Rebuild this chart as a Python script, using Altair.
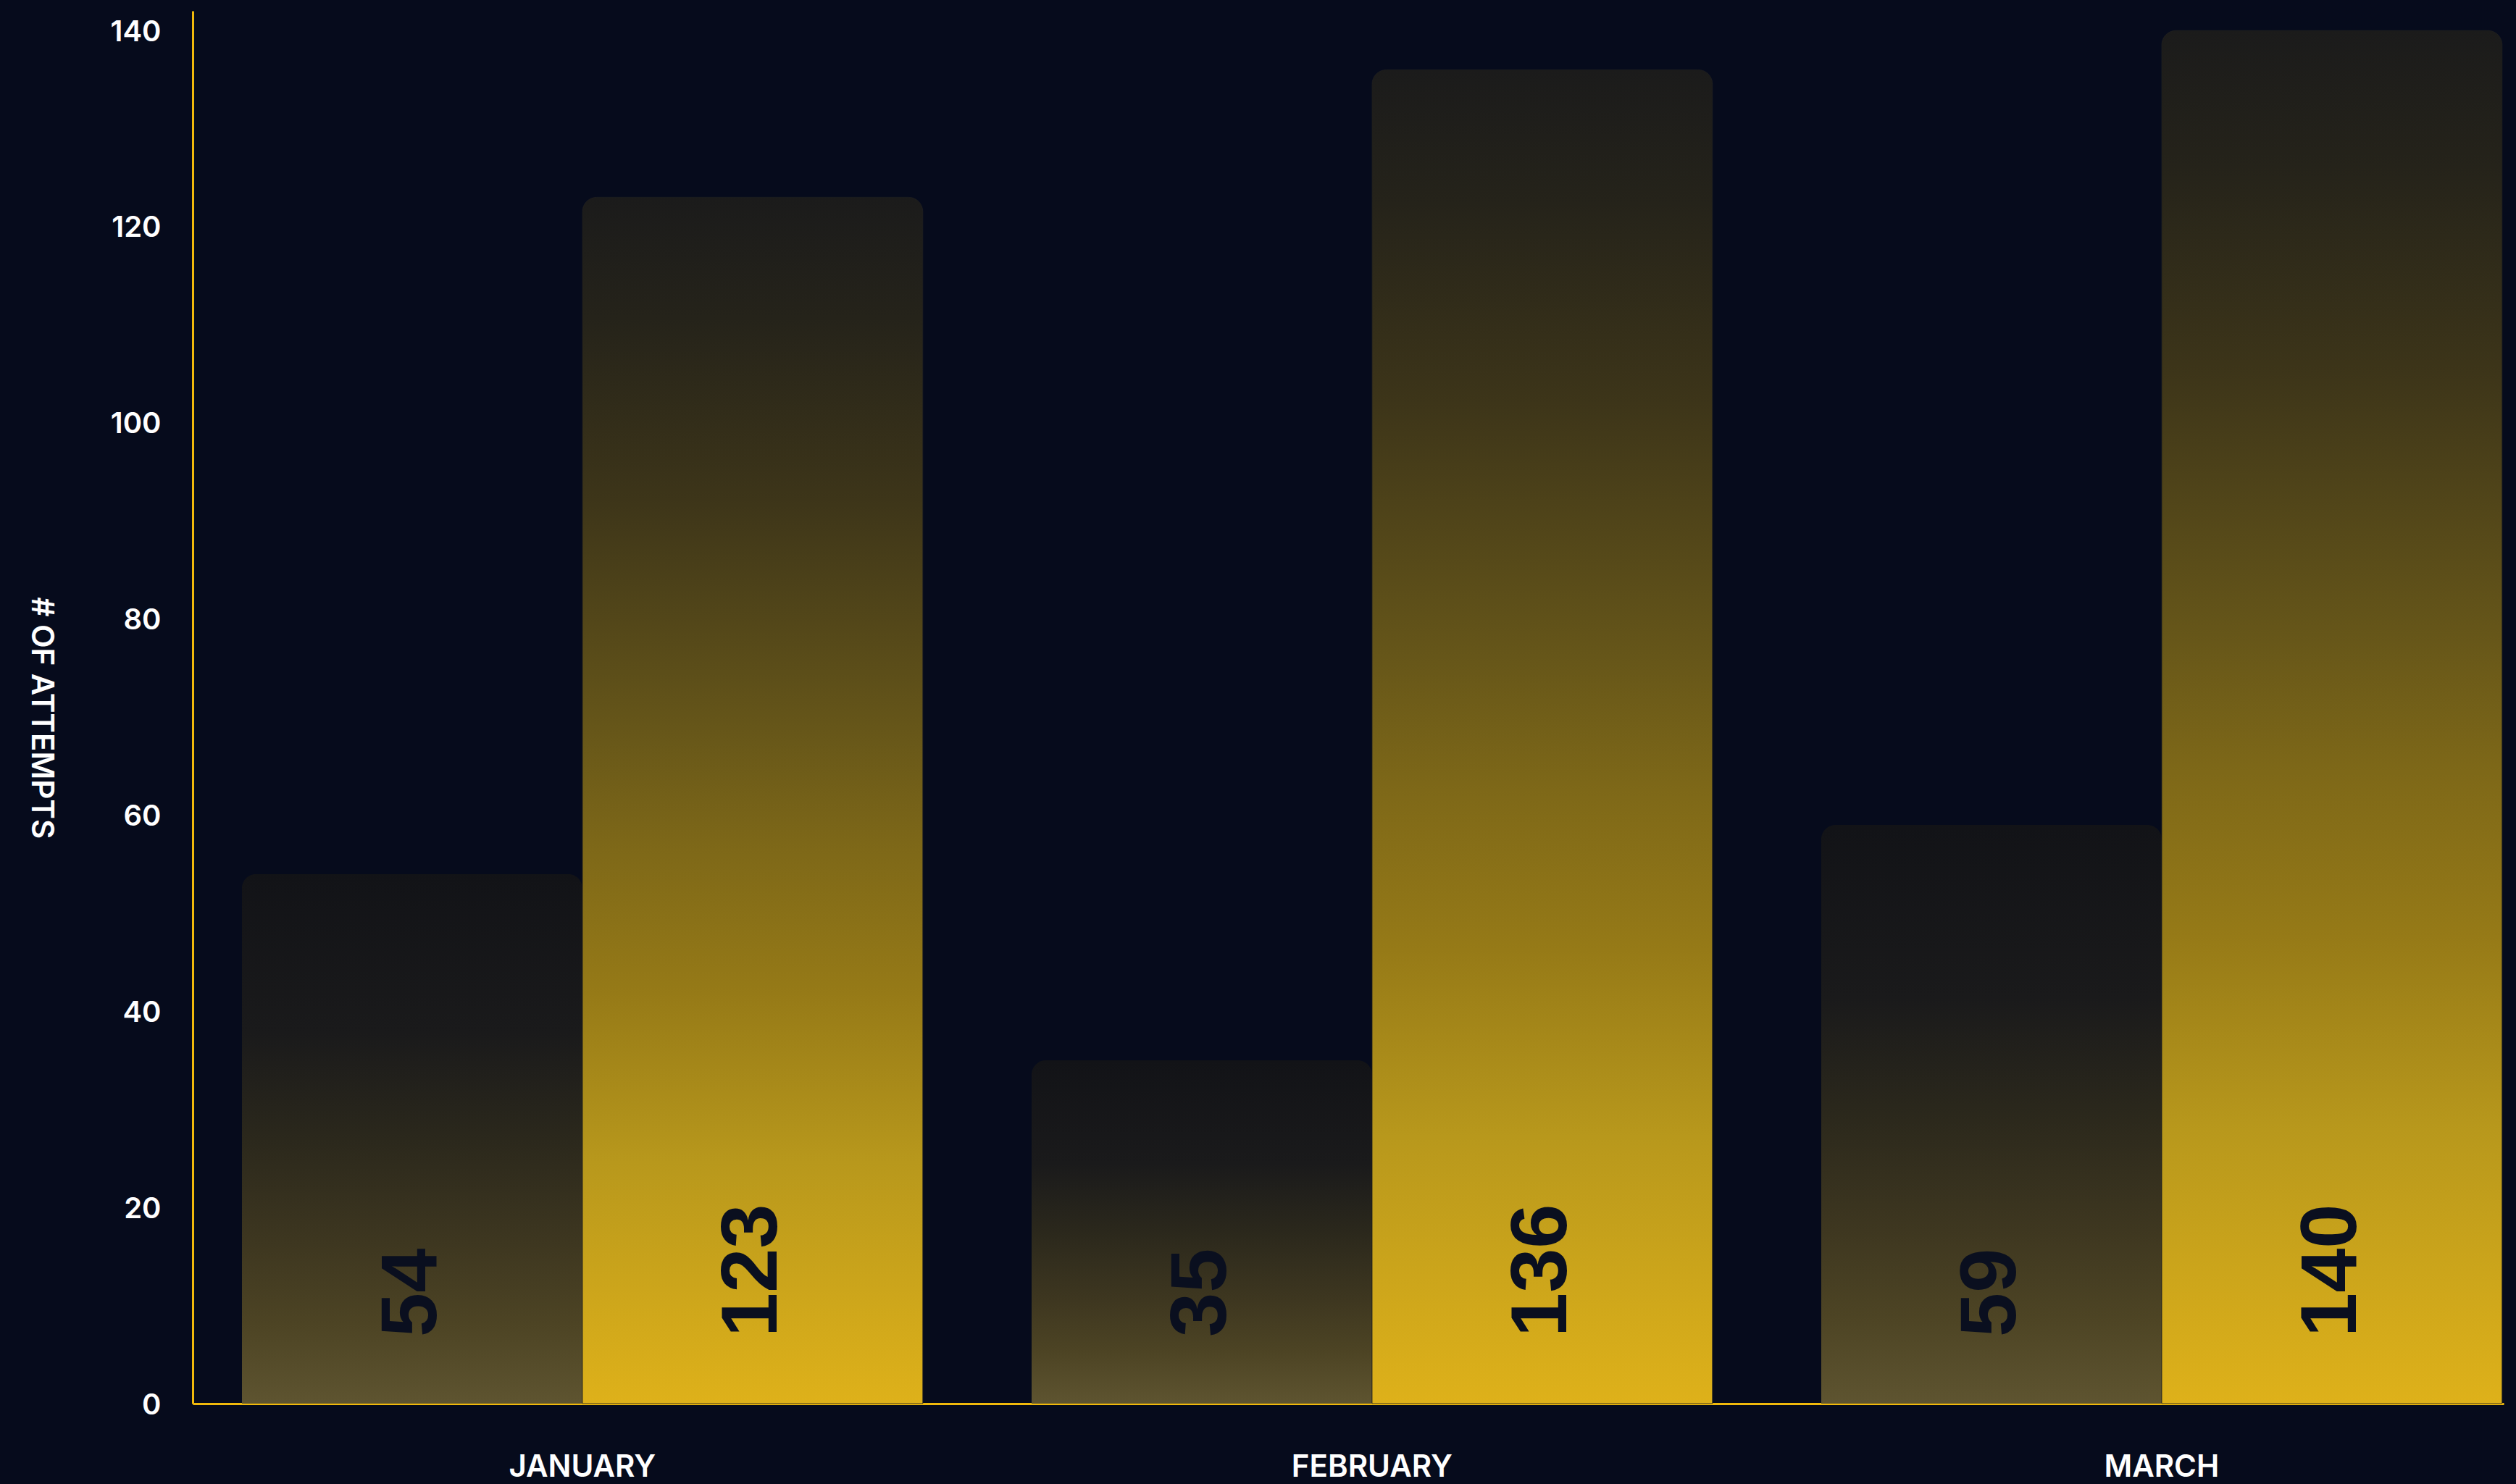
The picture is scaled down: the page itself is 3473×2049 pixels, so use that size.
import altair as alt
import pandas as pd

# ---- data ----
months = ["JANUARY", "FEBRUARY", "MARCH"]
series_names = ["Series 1", "Series 2"]
values_1 = [54, 35, 59]        # darker bars
values_2 = [123, 136, 140]     # yellow bars
y_ticks = [0, 20, 40, 60, 80, 100, 120, 140]

rows = []
for m, a, b in zip(months, values_1, values_2):
    rows.append({"month": m, "series": series_names[0], "value": a})
    rows.append({"month": m, "series": series_names[1], "value": b})
df = pd.DataFrame(rows)

BG = "#060b1c"
AXIS_YELLOW = "#f0b90b"

yellow_grad = alt.LinearGradient(
    gradient="linear", x1=0, x2=0, y1=0, y2=1,
    stops=[
        alt.GradientStop(color="#1b1b1b", offset=0.0),
        alt.GradientStop(color="#25231a", offset=0.10),
        alt.GradientStop(color="#3d3519", offset=0.25),
        alt.GradientStop(color="#665619", offset=0.44),
        alt.GradientStop(color="#7e6818", offset=0.54),
        alt.GradientStop(color="#967a17", offset=0.66),
        alt.GradientStop(color="#b8981c", offset=0.80),
        alt.GradientStop(color="#deb11a", offset=1.0),
    ],
)
dark_grad = alt.LinearGradient(
    gradient="linear", x1=0, x2=0, y1=0, y2=1,
    stops=[
        alt.GradientStop(color="#121317", offset=0.0),
        alt.GradientStop(color="#1a1a1b", offset=0.30),
        alt.GradientStop(color="#2b281c", offset=0.50),
        alt.GradientStop(color="#3e3720", offset=0.70),
        alt.GradientStop(color="#4d4424", offset=0.85),
        alt.GradientStop(color="#5e5430", offset=1.0),
    ],
)

x_enc = alt.X(
    "month:N",
    sort=months,
    scale=alt.Scale(paddingInner=0.1376, paddingOuter=0.0321, align=0.97),
    axis=alt.Axis(
        title=None, labelAngle=0, ticks=False,
        domainColor=AXIS_YELLOW, domainWidth=3,
        labelColor="#ffffff", labelFont="Inter", labelFontSize=42,
        labelFontWeight=600, labelPadding=100, labelBaseline="alphabetic",
        labelLimit=0,
    ),
)
xoff_enc = alt.XOffset(
    "series:N",
    scale=alt.Scale(domain=series_names, paddingInner=0, paddingOuter=0),
)
y_enc = alt.Y(
    "value:Q",
    scale=alt.Scale(domain=[0, 142], nice=False, zero=True),
    axis=alt.Axis(
        values=y_ticks, grid=False, ticks=False,
        domainColor=AXIS_YELLOW, domainWidth=3,
        labelColor="#ffffff", labelFont="Inter", labelFontSize=40,
        labelFontWeight=600, labelPadding=44, labelOffset=2, labelLimit=0,
        title="# OF ATTEMPTS", titleColor="#ffffff", titleFont="Inter",
        titleFontSize=42, titleFontWeight=600, titleAngle=90,
        titleX=-210, titleY=976, titleAlign="center", titleBaseline="middle",
    ),
)

base = alt.Chart(df)

bars_dark = base.transform_filter(
    alt.datum.series == series_names[0]
).mark_bar(
    color=dark_grad, cornerRadiusTopLeft=20, cornerRadiusTopRight=20
).encode(x=x_enc, xOffset=xoff_enc, y=y_enc)

bars_yellow = base.transform_filter(
    alt.datum.series == series_names[1]
).mark_bar(
    color=yellow_grad, cornerRadiusTopLeft=20, cornerRadiusTopRight=20,
    stroke="#222222", strokeWidth=1, strokeOpacity=0.6,
).encode(x=x_enc, xOffset=xoff_enc, y=y_enc)

labels = base.mark_text(
    angle=270, align="left", baseline="middle", dx=92,
    font="Liberation Sans", fontWeight="bold", fontSize=110, color="#0a0f1f",
).encode(
    x=x_enc, xOffset=xoff_enc, y=alt.datum(0), text="value:Q",
)

chart = alt.layer(bars_dark, bars_yellow, labels).properties(
    width=3190, height=1923,
    autosize=alt.AutoSizeParams(type="none"),
    padding={"left": 266, "top": 15, "right": 17, "bottom": 111},
    background=BG,
).configure_view(stroke=None)

chart.save("out.html", embed_options={"renderer": "svg", "actions": False})
